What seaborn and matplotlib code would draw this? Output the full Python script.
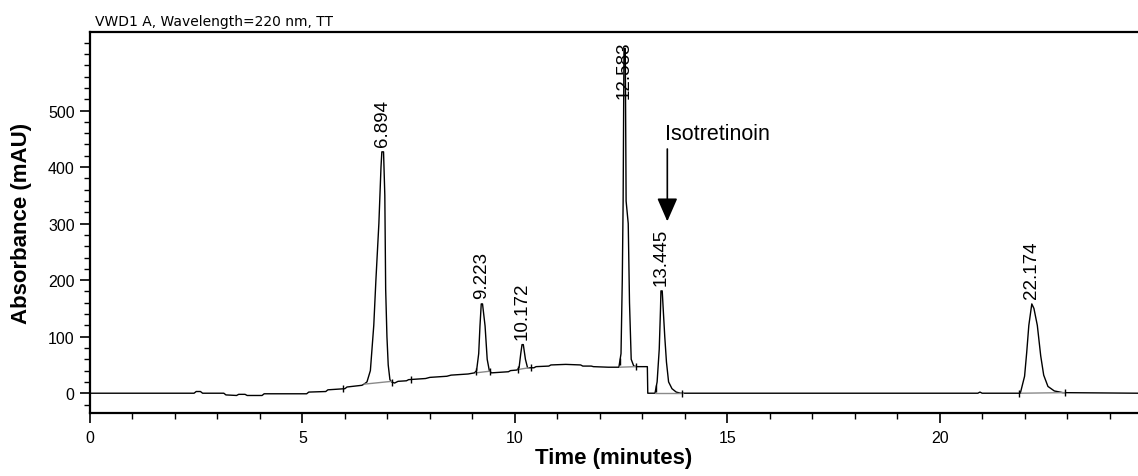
import matplotlib
matplotlib.use("Agg")
import matplotlib.pyplot as plt
from matplotlib.ticker import MultipleLocator
import numpy as np
import pandas as pd
import seaborn as sns

# Chromatogram trace (time in minutes, absorbance in mAU)
time_min = [
    0.0, 2.45, 2.5, 2.6, 2.65, 3.15, 3.2, 3.45, 3.5, 3.65, 3.7, 4.05, 4.1,
    5.1, 5.15, 5.55, 5.6, 6.0, 6.05, 6.4, 6.45, 6.52, 6.6, 6.68, 6.73,
    6.8, 6.85, 6.87, 6.91, 6.94, 6.96, 6.99, 7.02, 7.06, 7.1, 7.17, 7.25,
    7.45, 7.5, 7.9, 8.0, 8.4, 8.5, 8.9, 9.05, 9.1, 9.15, 9.18, 9.21, 9.24,
    9.3, 9.35, 9.4, 9.45, 9.85, 9.9, 10.05, 10.1, 10.14, 10.17, 10.2,
    10.25, 10.3, 10.45, 10.5, 10.8, 10.85, 11.2, 11.55, 11.6, 11.8, 11.85,
    12.2, 12.45, 12.5, 12.53, 12.55, 12.57, 12.6, 12.62, 12.67, 12.7,
    12.74, 12.8, 12.88, 13.12, 13.13, 13.3, 13.35, 13.4, 13.43, 13.44,
    13.47, 13.5, 13.53, 13.57, 13.62, 13.7, 13.8, 13.9, 20.9, 20.95, 21.0,
    21.9, 22.0, 22.05, 22.1, 22.17, 22.22, 22.3, 22.38, 22.45, 22.55,
    22.7, 22.9, 24.7,
]
absorbance = [
    0, 0, 3, 3, 0, 0, -3, -4, -2, -2, -4, -4, -1,
    -1, 2, 3, 6, 8, 11, 14, 16, 20, 40, 120, 200,
    300, 400, 427, 427, 350, 184, 100, 50, 24, 20, 18, 21,
    22, 24, 26, 28, 30, 32, 34, 36, 40, 70, 119, 158, 158,
    119, 60, 40, 36, 38, 40, 41, 45, 70, 86, 86,
    60, 45, 45, 47, 48, 50, 51, 50, 48, 48, 47,
    46, 46, 70, 200, 340, 610, 610, 340, 300, 160,
    60, 48, 47, 47, 0, 0, 20, 78, 150, 181,
    181, 140, 100, 55, 20, 8, 2, 0, 0, 2, 0,
    0, 30, 72, 120, 158, 150, 120, 66, 32, 12,
    4, 1, 0,
]

# Peak retention times and apex heights
peak_times = [6.894, 9.223, 10.172, 12.583, 13.445, 22.174]
peak_heights = [427, 158, 86, 610, 181, 158]
peak_labels = ["6.894", "9.223", "10.172", "12.583", "13.445", "22.174"]

# Integration baselines under the peaks (start/end time and level)
base_t0 = [6.45, 9.08, 10.08, 12.47, 13.30, 21.92]
base_t1 = [7.10, 9.42, 10.33, 12.85, 13.95, 22.95]
base_v0 = [16, 36, 42, 46, 0, 0]
base_v1 = [21, 39, 45, 47, 0, 1]

# Peak start/end marker times
marker_times = [5.95, 7.12, 7.55, 9.08, 9.42, 10.07, 10.38, 12.47,
                12.85, 13.32, 13.93, 21.87, 22.95]


def main():
    sns.set_style("ticks")
    plt.rcParams["font.family"] = ["Liberation Sans", "DejaVu Sans"]
    plt.rcParams["text.color"] = "black"
    plt.rcParams["axes.labelcolor"] = "black"

    fig = plt.figure(figsize=(11.38, 4.77), dpi=100)
    ax = fig.add_axes([90 / 1138, 1 - 414 / 477, 1048 / 1138, 381 / 477])

    trace = pd.DataFrame({"t": time_min, "mAU": absorbance})
    sns.lineplot(data=trace, x="t", y="mAU", ax=ax, color="black",
                 linewidth=1.0, estimator=None, sort=False)

    # grey integration baselines
    for t0, t1, v0, v1 in zip(base_t0, base_t1, base_v0, base_v1):
        ax.plot([t0, t1], [v0, v1], color="#8a8a8a", linewidth=1.0)

    # small start/end ticks
    mv = np.interp(marker_times, time_min, absorbance)
    ax.vlines(marker_times, mv - 6, mv + 6, color="black", linewidth=1.0)

    # peak labels (the tallest one is held below the frame top)
    for t, h, lab in zip(peak_times, peak_heights, peak_labels):
        y = min(h, 512)
        ax.annotate(lab, xy=(t, y), xytext=(0, 4), textcoords="offset points",
                    rotation=90, ha="center", va="bottom", fontsize=13.5,
                    color="black")

    # Isotretinoin annotation
    ax.text(13.53, 460, "Isotretinoin", fontsize=15.5, ha="left",
            va="center", color="black")
    ax.annotate("", xy=(13.59, 304), xytext=(13.59, 432),
                arrowprops=dict(arrowstyle="-|>,head_width=0.35,head_length=0.8",
                                color="black", lw=1.2, mutation_scale=18,
                                shrinkA=0, shrinkB=0))

    ax.set_xlim(0, 24.67)
    ax.set_ylim(-35, 639)

    ax.xaxis.set_major_locator(MultipleLocator(5))
    ax.xaxis.set_minor_locator(MultipleLocator(1))
    ax.yaxis.set_major_locator(MultipleLocator(100))
    ax.yaxis.set_minor_locator(MultipleLocator(20))
    ax.set_yticks([0, 100, 200, 300, 400, 500])

    ax.tick_params(axis="both", which="major", direction="out", length=7,
                   width=1.2, labelsize=11.5, colors="black", pad=4)
    ax.tick_params(axis="both", which="minor", direction="out", length=4,
                   width=1.0, colors="black")
    ax.tick_params(axis="x", which="major", pad=5)

    for side in ["left", "top", "bottom"]:
        ax.spines[side].set_color("black")
        ax.spines[side].set_linewidth(1.6)
    ax.spines["right"].set_visible(False)

    ax.set_xlabel("Time (minutes)", fontsize=16, fontweight="bold",
                  color="black")
    ax.set_ylabel("Absorbance (mAU)", fontsize=16, fontweight="bold",
                  color="black")
    ax.xaxis.set_label_coords(0.5, -0.118)
    ax.xaxis.label.set_va("center")
    ax.yaxis.set_label_coords(-0.0649, 0.5)
    ax.yaxis.label.set_va("center")

    ax.text(0.005, 1.029, "VWD1 A, Wavelength=220 nm, TT", transform=ax.transAxes,
            fontsize=10, family="DejaVu Sans", ha="left", va="center",
            color="black")

    fig.savefig("out.png", dpi=100, facecolor="white")


if __name__ == "__main__":
    main()
